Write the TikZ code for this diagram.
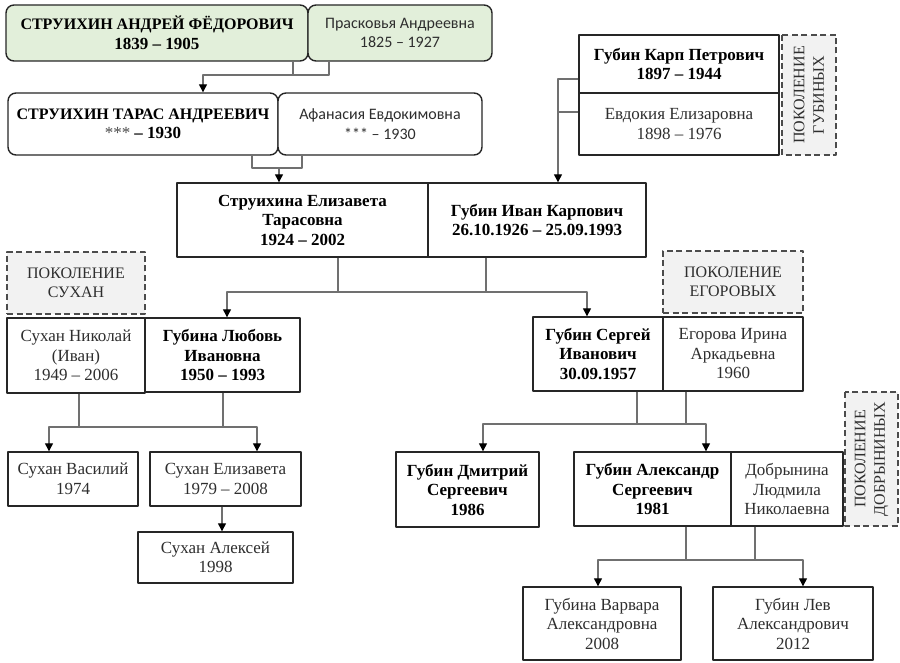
\documentclass[tikz,border=0pt]{standalone}
\usepackage{fontspec}
\setmainfont{Liberation Serif}
\newfontfamily\calibri{Carlito}
\usetikzlibrary{arrows.meta}
\definecolor{rootgreen}{HTML}{E2EFDA}
\definecolor{linkgray}{HTML}{707070}
\definecolor{labelgray}{HTML}{F2F2F2}
\tikzset{
  pers/.style={draw=black!85,line width=1.4pt,fill=white,align=center,inner sep=1pt,
    text=black!82,font=\fontsize{17}{19.5}\selectfont},
  root/.style={pers,rounded corners=8pt,fill=rootgreen},
  elder/.style={pers,rounded corners=8pt},
  gen/.style={pers,dash pattern=on 6pt off 3.5pt,draw=black!70,fill=labelgray,line width=1.2pt,
    font=\fontsize{16}{19.5}\selectfont},
  link/.style={draw=linkgray,line width=1.3pt},
  arr/.style={link,-{Triangle[width=8pt,length=8pt,color=black]}},
  twoarr/.style={link,{Triangle[width=8pt,length=8pt,color=black]}-{Triangle[width=8pt,length=8pt,color=black]}}
}
\newcommand\capsname[1]{{\fontsize{16}{19.5}\selectfont\textbf{#1}}}
\begin{document}
\begin{tikzpicture}[x=1pt,y=-1pt,line join=round]
  \useasboundingbox (0,0) rectangle (900,663);
  % old generations
  \node[root,minimum width=302pt,minimum height=56pt,text=black] (andrey) at (157,33)
    {\capsname{СТРУИХИН АНДРЕЙ ФЁДОРОВИЧ}\\\textbf{1839 – 1905}};
  \node[root,minimum width=184pt,minimum height=56pt,font=\calibri\fontsize{16}{19.5}\selectfont] (praskovya) at (400,33)
    {Прасковья Андреевна\\1825 – 1927};
  \node[elder,minimum width=270pt,minimum height=62pt,text=black] (taras) at (143,124)
    {\capsname{СТРУИХИН ТАРАС АНДРЕЕВИЧ}\\{\color{black!70}***} \textbf{– 1930}};
  \node[elder,minimum width=204pt,minimum height=62pt,font=\calibri\fontsize{16}{19.5}\selectfont] (afanasia) at (380,124)
    {Афанасия Евдокимовна\\*** – 1930};
  \node[pers,minimum width=200pt,minimum height=58pt,text=black] (karp) at (679,64)
    {\textbf{Губин Карп Петрович}\\\textbf{1897 – 1944}};
  \node[pers,minimum width=200pt,minimum height=62pt] (evdokia) at (679,124)
    {Евдокия Елизаровна\\1898 – 1976};
  \node[gen,rotate=90,minimum width=120pt,minimum height=54pt] (gubiny) at (809,95)
    {ПОКОЛЕНИЕ\\ГУБИНЫХ};
  % parents
  \node[pers,minimum width=251pt,minimum height=74pt,text=black] (elizaveta) at (302.5,220)
    {\textbf{Струихина Елизавета}\\\textbf{Тарасовна}\\\textbf{1924 – 2002}};
  \node[pers,minimum width=218pt,minimum height=74pt,text=black] (ivan) at (537,220)
    {\textbf{Губин Иван Карпович}\\\textbf{26.10.1926 – 25.09.1993}};
  % children
  \node[gen,minimum width=138pt,minimum height=62pt] (suhan) at (76,283) {ПОКОЛЕНИЕ\\СУХАН};
  \node[pers,minimum width=138pt,minimum height=75pt] (nikolay) at (76,355.5)
    {Сухан Николай\\(Иван)\\1949 – 2006};
  \node[pers,minimum width=155pt,minimum height=74pt,text=black] (lubov) at (222.5,355)
    {\textbf{Губина Любовь}\\\textbf{Ивановна}\\\textbf{1950 – 1993}};
  \node[gen,minimum width=140pt,minimum height=62pt] (egorovy) at (733,282) {ПОКОЛЕНИЕ\\ЕГОРОВЫХ};
  \node[pers,minimum width=130pt,minimum height=74pt,text=black] (sergey) at (598,354)
    {\textbf{Губин Сергей}\\\textbf{Иванович}\\\textbf{30.09.1957}};
  \node[pers,minimum width=140pt,minimum height=74pt] (irina) at (733,354)
    {Егорова Ирина\\Аркадьевна\\1960};
  % grandchildren
  \node[pers,minimum width=130pt,minimum height=54pt] (vasiliy) at (73,479) {Сухан Василий\\1974};
  \node[pers,minimum width=151pt,minimum height=54pt] (suhaneliz) at (225.5,479) {Сухан Елизавета\\1979 – 2008};
  \node[pers,minimum width=155pt,minimum height=51pt] (aleksey) at (215.5,557.5) {Сухан Алексей\\1998};
  \node[pers,minimum width=143pt,minimum height=75pt,text=black] (dmitriy) at (467.5,489.5)
    {\textbf{Губин Дмитрий}\\\textbf{Сергеевич}\\\textbf{1986}};
  \node[pers,minimum width=157pt,minimum height=74pt,text=black] (aleksandr) at (652.5,489)
    {\textbf{Губин Александр}\\\textbf{Сергеевич}\\\textbf{1981}};
  \node[pers,minimum width=112pt,minimum height=74pt] (dobrynina) at (787,489)
    {Добрынина\\Людмила\\Николаевна};
  \node[gen,rotate=90,minimum width=134pt,minimum height=53pt] (dobryniny) at (871.5,459)
    {ПОКОЛЕНИЕ\\ДОБРЫНИНЫХ};
  \node[pers,minimum width=158pt,minimum height=73pt] (varvara) at (602,623.5)
    {Губина Варвара\\Александровна\\2008};
  \node[pers,minimum width=160pt,minimum height=73pt] (lev) at (793,623.5)
    {Губин Лев\\Александрович\\2012};
  % connectors
  \draw[link] (andrey.south -| 293,0) |- (203,75);
  \draw[arr] (praskovya.south -| 329,0) |- (203,75) -- (taras.north -| 203,0);
  \draw[link] (taras.south -| 252,0) |- (279,168);
  \draw[arr] (afanasia.south -| 302,0) |- (279,168) -- (elizaveta.north -| 279,0);
  \draw[link] (evdokia.west |- 0,112) -- (558,112);
  \draw[arr] (karp.west |- 0,79) -| (ivan.north -| 558,0);
  \draw[link] (elizaveta.south -| 338,0) -- (338,292);
  \draw[link] (ivan.south -| 486,0) -- (486,292);
  \draw[twoarr] (lubov.north -| 227,0) |- (338,292) -| (sergey.north -| 587,0);
  \draw[link] (nikolay.south -| 79,0) -- (79,427);
  \draw[link] (lubov.south -| 223,0) -- (223,427);
  \draw[twoarr] (vasiliy.north -| 49,0) |- (79,427) -| (suhaneliz.north -| 257,0);
  \draw[arr] (suhaneliz.south -| 222,0) -- (aleksey.north -| 222,0);
  \draw[link] (sergey.south -| 637,0) -- (637,424);
  \draw[link] (irina.south -| 686,0) -- (686,424);
  \draw[twoarr] (dmitriy.north -| 483,0) |- (637,424) -| (aleksandr.north -| 706,0);
  \draw[link] (aleksandr.south -| 686,0) -- (686,560);
  \draw[link] (dobrynina.south -| 755,0) -- (755,560);
  \draw[twoarr] (varvara.north -| 598,0) |- (686,560) -| (lev.north -| 803,0);
\end{tikzpicture}
\end{document}
